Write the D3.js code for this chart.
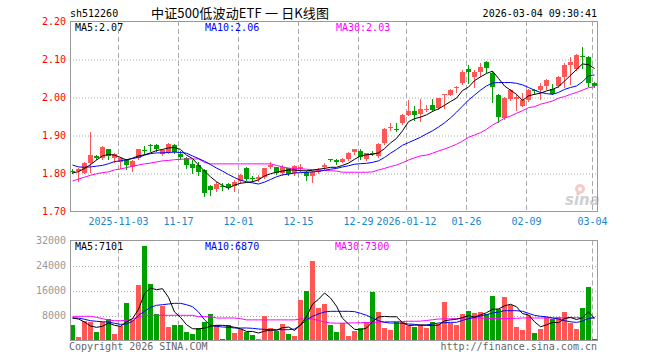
<!DOCTYPE html>
<html>
<head>
<meta charset="utf-8">
<script src="https://cdn.jsdelivr.net/npm/d3@7"></script>
<style>
  body { margin: 0; background: #fff; }
  svg text { font-family: "DejaVu Sans Mono", monospace; font-size: 10px; }
</style>
</head>
<body>
<div id="chart"></div>
<script>
// trading days shown on the chart
var dates = [
  "2025-10-22","2025-10-23","2025-10-24","2025-10-27","2025-10-28","2025-10-29","2025-10-30","2025-10-31",
  "2025-11-03","2025-11-04","2025-11-05","2025-11-06","2025-11-07","2025-11-10","2025-11-11","2025-11-12",
  "2025-11-13","2025-11-14","2025-11-17","2025-11-18","2025-11-19","2025-11-20","2025-11-21","2025-11-24",
  "2025-11-25","2025-11-26","2025-11-27","2025-11-28",
  "2025-12-01","2025-12-02","2025-12-03","2025-12-04","2025-12-05","2025-12-08","2025-12-09","2025-12-10",
  "2025-12-11","2025-12-12","2025-12-15","2025-12-16","2025-12-17","2025-12-18","2025-12-19","2025-12-22",
  "2025-12-23","2025-12-24","2025-12-25","2025-12-26","2025-12-29","2025-12-30","2025-12-31",
  "2026-01-05","2026-01-06","2026-01-07","2026-01-08","2026-01-09","2026-01-12","2026-01-13","2026-01-14",
  "2026-01-15","2026-01-16","2026-01-19","2026-01-20","2026-01-21","2026-01-22","2026-01-23","2026-01-26",
  "2026-01-27","2026-01-28","2026-01-29","2026-01-30",
  "2026-02-02","2026-02-03","2026-02-04","2026-02-05","2026-02-06","2026-02-09","2026-02-10","2026-02-11",
  "2026-02-12","2026-02-13","2026-02-24","2026-02-25","2026-02-26","2026-02-27",
  "2026-03-02","2026-03-03","2026-03-04"
];

var opens = [
  1.806,1.806,1.800,1.827,1.846,1.840,1.863,1.840,1.830,1.834,
  1.817,1.839,1.861,1.873,1.874,1.850,1.854,1.875,1.850,1.839,
  1.825,1.821,1.808,1.767,1.759,1.766,1.772,1.765,1.779,1.814,
  1.788,1.784,1.790,1.815,1.815,1.799,1.812,1.800,1.810,1.802,
  1.791,1.803,1.815,1.836,1.834,1.830,1.836,1.854,1.859,1.836,
  1.853,1.846,1.878,1.918,1.916,1.931,1.953,1.964,1.954,1.966,
  1.979,1.971,2.005,2.006,2.025,2.038,2.073,2.053,2.067,2.092,
  2.064,2.005,1.945,1.995,1.994,1.977,1.992,2.018,2.019,2.030,
  2.020,2.029,2.053,2.083,2.073,2.109,2.106,2.038
];
var highs = [
  1.810,1.812,1.828,1.909,1.847,1.871,1.864,1.852,1.842,1.836,
  1.834,1.864,1.871,1.876,1.877,1.862,1.880,1.876,1.857,1.841,
  1.834,1.830,1.810,1.768,1.777,1.773,1.774,1.782,1.797,1.815,
  1.792,1.794,1.814,1.828,1.817,1.820,1.814,1.822,1.823,1.804,
  1.805,1.812,1.826,1.838,1.836,1.840,1.855,1.864,1.862,1.853,
  1.858,1.878,1.918,1.931,1.931,1.955,1.992,1.976,1.996,1.978,
  1.995,1.998,2.008,2.020,2.028,2.071,2.084,2.070,2.090,2.095,
  2.068,2.007,1.999,2.020,2.007,2.010,2.021,2.021,2.038,2.047,
  2.033,2.055,2.089,2.104,2.113,2.131,2.108,2.039
];
var lows = [
  1.800,1.780,1.799,1.803,1.836,1.836,1.838,1.830,1.812,1.811,
  1.806,1.836,1.849,1.858,1.858,1.848,1.852,1.852,1.838,1.814,
  1.801,1.796,1.739,1.741,1.752,1.755,1.758,1.753,1.775,1.782,
  1.780,1.779,1.786,1.812,1.797,1.795,1.795,1.796,1.806,1.782,
  1.777,1.801,1.811,1.831,1.823,1.828,1.834,1.851,1.836,1.833,
  1.847,1.843,1.876,1.913,1.910,1.929,1.952,1.939,1.938,1.962,
  1.962,1.969,1.971,2.004,2.012,2.034,2.036,2.027,2.055,2.067,
  1.988,1.935,1.942,1.993,1.966,1.975,1.989,2.008,1.995,2.021,
  2.008,2.027,2.027,2.035,2.070,2.076,2.029,2.026
];
var closes = [
  1.804,1.810,1.826,1.847,1.839,1.869,1.845,1.849,1.840,1.821,
  1.832,1.863,1.859,1.871,1.862,1.860,1.876,1.855,1.842,1.821,
  1.812,1.802,1.748,1.754,1.771,1.764,1.762,1.777,1.795,1.783,
  1.786,1.790,1.812,1.820,1.799,1.817,1.798,1.818,1.816,1.791,
  1.803,1.809,1.821,1.834,1.828,1.838,1.853,1.862,1.843,1.852,
  1.851,1.876,1.915,1.920,1.914,1.953,1.964,1.953,1.969,1.968,
  1.966,1.997,2.008,2.018,2.027,2.067,2.067,2.067,2.080,2.075,
  2.027,1.947,1.997,2.018,2.001,1.992,2.018,2.016,2.029,2.044,
  2.009,2.053,2.084,2.092,2.111,2.107,2.038,2.029
];

var ma5 = [
  1.800,1.8035,1.812,1.822,1.834,1.845,1.849,1.847,1.841,1.834,
  1.839,1.845,1.848,1.853,1.859,1.862,1.866,1.867,1.862,1.847,
  1.838,1.821,1.805,1.790,1.777,1.767,1.760,1.768,1.773,1.775,
  1.777,1.782,1.792,1.798,1.802,1.805,1.808,1.808,1.806,1.806,
  1.807,1.810,1.812,1.815,1.815,1.820,1.826,1.836,1.845,1.848,
  1.849,1.853,1.864,1.879,1.891,1.911,1.935,1.943,1.947,1.953,
  1.962,1.969,1.978,1.988,1.997,2.017,2.026,2.043,2.053,2.062,
  2.068,2.049,2.029,2.018,2.007,1.991,2.003,2.007,2.010,2.016,
  2.020,2.027,2.042,2.057,2.072,2.087,2.085,2.075
];
var ma10 = [
  1.821,1.816,1.815,1.816,1.818,1.820,1.8245,1.830,1.832,1.835,
  1.838,1.841,1.847,1.851,1.853,1.853,1.854,1.855,1.854,1.852,
  1.845,1.838,1.831,1.822,1.813,1.805,1.796,1.788,1.781,1.777,
  1.774,1.771,1.776,1.783,1.790,1.795,1.797,1.800,1.801,1.802,
  1.803,1.8045,1.807,1.810,1.812,1.816,1.819,1.823,1.8245,1.8255,
  1.828,1.832,1.841,1.852,1.862,1.873,1.880,1.887,1.894,1.903,
  1.911,1.921,1.932,1.945,1.960,1.976,1.992,2.005,2.018,2.029,
  2.037,2.038,2.038,2.038,2.036,2.032,2.025,2.018,2.012,2.009,
  2.007,2.012,2.020,2.025,2.029,2.040,2.056,2.058
];
var ma30 = [
  1.779,1.784,1.789,1.794,1.798,1.801,1.803,1.808,1.8105,1.814,
  1.818,1.821,1.824,1.826,1.829,1.832,1.833,1.835,1.836,1.837,
  1.837,1.837,1.828,1.824,1.824,1.824,1.824,1.824,1.824,1.824,
  1.824,1.824,1.824,1.824,1.820,1.816,1.813,1.8115,1.811,1.810,
  1.809,1.808,1.8065,1.806,1.805,1.802,1.802,1.802,1.802,1.802,
  1.803,1.808,1.812,1.817,1.821,1.827,1.834,1.840,1.845,1.847,
  1.852,1.858,1.863,1.869,1.8755,1.884,1.894,1.900,1.906,1.915,
  1.926,1.935,1.944,1.950,1.957,1.964,1.972,1.9745,1.981,1.985,
  1.9895,1.997,2.001,2.007,2.012,2.018,2.0245,2.027
];

var volumes = [
  4960,1200,6300,6000,2700,6000,6900,2100,4600,12100,
  6550,17750,30350,18080,8480,11040,4420,4960,4960,2820,
  2080,3900,6020,8480,4860,480,4960,2300,3580,2820,
  1760,480,7840,3900,3040,5180,2080,1440,12960,15840,
  25440,10300,11580,4960,2720,5700,1440,3040,3900,6020,
  15620,9220,4100,3360,6020,6020,4640,4420,4960,4100,
  5820,5280,12420,5500,4960,8480,9540,8700,9220,8480,
  14240,9980,13920,11360,4420,3360,8160,2500,3780,7620,
  6980,7620,9220,5700,3780,10500,17220,580
];
var volMa5 = [
  7200,6880,5920,4640,4220,4540,5600,4860,4540,5920,
  7000,10000,15000,16800,16260,16580,13820,9120,7420,5060,
  3780,3680,4000,4540,4860,4860,4640,4220,3780,2900,
  2900,2400,3000,3300,3300,4100,4300,3200,5000,7600,
  11600,13200,15200,13600,11000,7100,5300,3600,3400,4000,
  6000,7500,7700,7600,7600,5700,4800,4900,5000,4850,
  4800,4950,6300,6600,6800,7300,8000,7500,8200,8900,
  10000,10100,11100,11600,10800,8600,8200,6000,4400,5000,
  5800,5700,7000,7400,6700,7300,9200,7100
];
var volMa10 = [
  7200,7200,6780,6340,6140,6000,5920,5500,5180,5280,
  6140,8060,9340,10620,11260,11460,11680,11900,11900,11460,
  10820,9120,6660,4860,4540,4320,4220,4000,4000,4000,
  3900,3680,3570,3460,3460,3460,3460,3680,4860,6660,
  7740,8500,9120,9340,9340,9340,9340,9230,8700,8060,
  7200,6340,5800,5600,5600,5500,5280,5180,4860,5000,
  5280,5600,5700,5820,5820,6450,6980,7420,7840,8280,
  8800,9120,9540,9540,9540,9340,8700,8060,7740,7600,
  7200,6880,6340,6000,5800,6200,7100,7200
];
var volMa30 = [
  7740,7740,7740,7740,7420,6980,6560,6340,6340,6400,
  6880,7520,8060,8060,8060,8060,8060,8060,8060,8060,
  8060,7620,7620,7620,7200,7200,7200,7200,7000,6600,
  6600,6600,6600,6600,6600,6600,6600,6600,6880,6880,
  6880,6400,5900,5600,5550,5550,5600,5650,5700,5750,
  5800,5900,6000,6050,6100,6100,6150,6150,6200,6400,
  6650,6880,6900,6950,7000,7200,7200,7200,7200,7100,
  7050,7000,7000,7050,7100,7200,7200,7200,7200,7200,
  7250,7250,7250,7300,7300,7300,7300,7300
];

// labelled gridlines on the date axis
var tickDates = ["2025-11-03","2025-11-17","2025-12-01","2025-12-15","2025-12-29","2026-01-12","2026-01-26","2026-02-09","2026-03-04"];
var tickLabels = ["2025-11-03","11-17","12-01","12-15","12-29","2026-01-12","01-26","02-09","03-04"];
var priceTicks = [1.70, 1.80, 1.90, 2.00, 2.10, 2.20];
var volTicks = [8000, 16000, 24000, 32000];

var width = 660, height = 360;
var left = 70, right = 597.5;
var pTop = 21, pBottom = 211;
var vTop = 240.5, vBottom = 340.5;

var RED = "#ff5656", GREEN = "#00a000";

var svg = d3.select("#chart").append("svg")
  .attr("width", width).attr("height", height);

var idx = d3.range(dates.length);
var x = d3.scaleBand().domain(idx).range([69.5, 597.5]).paddingInner(1 / 6).paddingOuter(1 / 12);
var y = d3.scaleLinear().domain([1.70, 2.20]).range([pBottom, pTop]);
var yv = d3.scaleLinear().domain([0, 32000]).range([vBottom, vTop]);

function cx(i) { return x(i) + x.bandwidth() / 2; }
function up(i) { return closes[i] >= opens[i]; }

var tickIdx = tickDates.map(function (d) { return dates.indexOf(d); });

// ---- header
svg.append("text").attr("x", 70).attr("y", 17).text("sh512260");
svg.append("text").attr("x", 151).attr("y", 17.5)
  .attr("textLength", 178).attr("lengthAdjust", "spacing")
  .style("font-family", "'Noto Sans CJK SC', sans-serif").style("font-size", "13px")
  .text("中证500低波动ETF 一 日K线图");
svg.append("text").attr("x", 597).attr("y", 17).attr("text-anchor", "end").text("2026-03-04 09:30:41");

// ---- grid (both panels)
function hGrid(scale, values) {
  svg.append("g")
    .attr("transform", "translate(" + left + ",0.5)")
    .call(d3.axisRight(scale).tickValues(values).tickSize(right - left).tickFormat(""))
    .call(function (g) { g.select(".domain").remove(); })
    .selectAll("line").attr("stroke", "#aaa").attr("stroke-dasharray", "1,2");
}
hGrid(y, [1.80, 1.90, 2.00, 2.10]);
hGrid(yv, [8000, 16000, 24000]);

[[pTop, pBottom], [vTop, vBottom]].forEach(function (r) {
  svg.append("g").selectAll("line").data(tickIdx).enter().append("line")
    .attr("x1", function (i) { return x(i) + 0.5; })
    .attr("x2", function (i) { return x(i) + 0.5; })
    .attr("y1", r[0]).attr("y2", r[1])
    .attr("stroke", "#aaa").attr("stroke-dasharray", "5,3");
});

// ---- axes
var pAxis = svg.append("g").attr("transform", "translate(" + left + ",0)")
  .call(d3.axisLeft(y).tickValues(priceTicks).tickSize(0).tickPadding(4).tickFormat(d3.format(".2f")));
pAxis.select(".domain").remove();
pAxis.selectAll("text").attr("fill", "#ff0000").style("font-family", "'DejaVu Sans Mono', monospace").style("font-size", "10px");

var vAxis = svg.append("g").attr("transform", "translate(" + left + ",0)")
  .call(d3.axisLeft(yv).tickValues(volTicks).tickSize(0).tickPadding(4).tickFormat(d3.format("d")));
vAxis.select(".domain").remove();
vAxis.selectAll("text").attr("fill", "#999").style("font-family", "'DejaVu Sans Mono', monospace").style("font-size", "10px");

var xAxis = svg.append("g").attr("transform", "translate(0.5," + (pBottom + 7) + ")")
  .call(d3.axisBottom(x).tickValues(tickIdx).tickSize(0).tickPadding(0)
    .tickFormat(function (i) { return tickLabels[tickIdx.indexOf(i)]; }));
xAxis.select(".domain").remove();
xAxis.selectAll(".tick").attr("transform", function (i) { return "translate(" + x(i) + ",0)"; });
xAxis.selectAll("text").attr("fill", "#1a86cc").attr("dy", "0.71em")
  .style("font-family", "'DejaVu Sans Mono', monospace").style("font-size", "10px");

// ---- sina watermark
var wm = svg.append("g").attr("opacity", 0.55);
wm.append("circle").attr("cx", 580).attr("cy", 189).attr("r", 5).attr("fill", "#f3a0a0");
wm.append("circle").attr("cx", 580).attr("cy", 189).attr("r", 2).attr("fill", "#fff");
wm.append("text").attr("x", 565).attr("y", 205)
  .style("font-family", "'DejaVu Sans', sans-serif").style("font-size", "15px")
  .style("font-weight", "bold").style("font-style", "italic")
  .attr("fill", "#aaa").text("sina");

// ---- candles
var candles = svg.append("g");
candles.selectAll("line").data(idx).enter().append("line")
  .attr("x1", cx).attr("x2", cx)
  .attr("y1", function (i) { return Math.round(y(highs[i])); })
  .attr("y2", function (i) { return Math.round(y(lows[i])) + 1; })
  .attr("stroke", function (i) { return up(i) ? RED : GREEN; });
candles.selectAll("rect").data(idx).enter().append("rect")
  .attr("x", function (i) { return x(i); })
  .attr("width", x.bandwidth())
  .attr("y", function (i) { return Math.round(y(Math.max(opens[i], closes[i]))); })
  .attr("height", function (i) {
    return Math.max(1, Math.round(y(Math.min(opens[i], closes[i]))) - Math.round(y(Math.max(opens[i], closes[i]))));
  })
  .attr("fill", function (i) { return up(i) ? RED : GREEN; });

// ---- volume bars
svg.append("g").selectAll("rect").data(idx).enter().append("rect")
  .attr("x", function (i) { return x(i); })
  .attr("width", x.bandwidth())
  .attr("y", function (i) { return Math.round(yv(volumes[i])); })
  .attr("height", function (i) { return Math.round(vBottom) - Math.round(yv(volumes[i])); })
  .attr("fill", function (i) { return up(i) ? RED : GREEN; });

// ---- moving averages
function maLine(values, scale, color) {
  var line = d3.line().x(function (d, i) { return cx(i); }).y(function (d) { return scale(d); });
  svg.append("path").datum(values).attr("d", line)
    .attr("fill", "none").attr("stroke", color).attr("stroke-width", 1);
}
maLine(ma30, y, "#ff00ff");
maLine(ma10, y, "#0000ff");
maLine(ma5, y, "#000000");
maLine(volMa30, yv, "#ff00ff");
maLine(volMa10, yv, "#0000ff");
maLine(volMa5, yv, "#000000");

// ---- frames
[[pTop, pBottom], [vTop, vBottom]].forEach(function (r) {
  svg.append("rect").attr("x", left + 0.5).attr("y", Math.floor(r[0]) + 0.5)
    .attr("width", right - left - 0.5).attr("height", Math.floor(r[1]) - Math.floor(r[0]))
    .attr("fill", "none").attr("stroke", "#999");
});

// ---- legends
function legend(yPos, items) {
  items.forEach(function (it) {
    svg.append("text").attr("x", it[0]).attr("y", yPos).attr("fill", it[2]).text(it[1]);
  });
}
legend(30.5, [[75, "MA5:2.07", "#000"], [205, "MA10:2.06", "#0000ff"], [336, "MA30:2.03", "#ff00ff"]]);
legend(250, [[75, "MA5:7101", "#000"], [205, "MA10:6870", "#0000ff"], [335, "MA30:7300", "#ff00ff"]]);

// ---- footer
svg.append("text").attr("x", 69).attr("y", 349.5).attr("fill", "#666").text("Copyright 2026 SINA.COM");
svg.append("text").attr("x", 597).attr("y", 349.5).attr("text-anchor", "end").attr("fill", "#666").text("http://finance.sina.com.cn");
</script>
</body>
</html>
